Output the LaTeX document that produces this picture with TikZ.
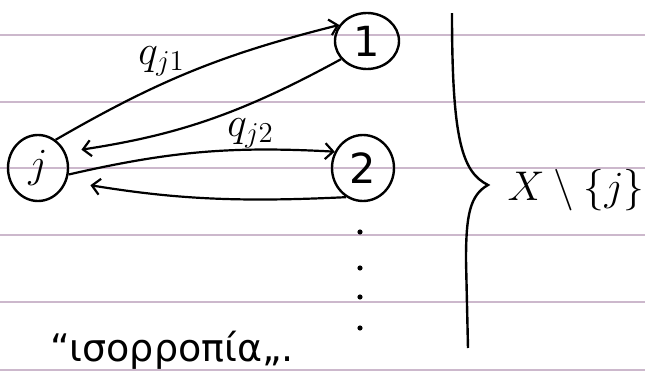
\documentclass[tikz,border=0pt]{standalone}
\usepackage{amsmath}
\usepackage{fontspec}
\setmainfont{DejaVu Sans}
\usepackage{xcolor}
\usepackage{tikz}
\usetikzlibrary{shapes.geometric,arrows.meta,positioning}
\definecolor{ruleline}{RGB}{204,184,204}

\begin{document}
\begin{tikzpicture}[x=0.5pt, y=-0.5pt, font=\huge, state/.style={draw, ellipse, line width=1.2pt, inner sep=0pt, minimum width=30pt, minimum height=33pt}, arr/.style={-{Straight Barb[length=4pt,width=8pt]}, line width=1.1pt}, ruled/.style={draw=ruleline, line width=0.6pt}]
\useasboundingbox (0,0) rectangle (645,386);
\foreach \y in {35,102,168,235,302,370} \draw[ruled] (0,\y) -- (645,\y);
\node[state] (j) at (38,168) {$j$};
\node[state, minimum width=32pt, minimum height=28pt] (n1) at (367,41) {1};
\node[state, minimum width=31pt, minimum height=33pt] (n2) at (363,168) {2};
\draw[arr] (j.58) to[bend left=8] node[pos=0.38, above=0pt] {$q_{j1}$} (n1.150);
\draw[arr, shorten >=8pt] (n1.215) to[bend left=10] (j.30);
\draw[arr] (j.-12) to[bend left=8] node[pos=0.7, above=-3pt] {$q_{j2}$} (n2.150);
\draw[arr, shorten >=12pt] (n2.240) to[bend left=6] (j.-25);
\foreach \d in {232,268,297,328} \fill (360,\d) circle (1.3pt);
\draw[line width=1.2pt] (452,13) .. controls (452,140) and (462,172) .. (488,185) .. controls (470,195) and (466,215) .. (466,260) -- (468,348);
\node[font=\fontsize{21}{25}\selectfont, inner sep=1pt] (rest) at (576,190) {$X\setminus\{j\}$};
\node[font=\fontsize{19}{22}\selectfont] (eq) at (172,350) {“ισορροπία„.};
\end{tikzpicture}
\end{document}
